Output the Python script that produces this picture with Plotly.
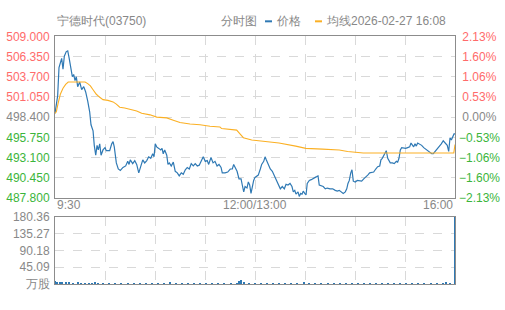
import plotly.graph_objects as go

# ---- data ----
prev_close = 498.4
price_levels = [487.8, 490.45, 493.1, 495.75, 498.4, 501.05, 503.7, 506.35, 509.0]

# trading minutes since 9:30 (lunch break removed, 330 = 16:00)
price_min = [0, 2.2, 3.3, 4.4, 5.5, 6.6, 7.7, 9.3, 10.5, 11.6, 13.2, 14.3, 15.4, 16.5, 17.6, 18.7,
             20.4, 22.0, 23.7, 25.3, 27.0, 28.6, 29.7, 31.4, 32.4, 33.6, 34.7, 35.7, 36.9, 38.0,
             39.6, 41.3, 42.3, 45.1, 46.8, 47.9, 48.9, 50.6, 52.2, 53.9, 56.1, 58.3, 60.0, 61.1,
             62.1, 64.1, 65.8, 67.4, 69.1, 70.7, 72.4, 74.0, 75.7, 77.3, 79.0, 80.6, 81.7, 82.7,
             83.9, 85.6, 87.2, 88.3, 89.3, 90.5, 92.2, 93.2, 94.3, 95.9, 97.6, 99.2, 100.9, 102.5,
             104.2, 105.8, 107.5, 109.1, 110.8, 112.4, 114.1, 115.7, 117.4, 119.0, 120.7, 122.3,
             124.0, 125.6, 126.8, 128.7, 130.4, 132.0, 133.7, 135.3, 137.0, 138.0, 140.3, 142.5,
             144.6, 146.3, 147.4, 148.5, 150.2, 151.8, 153.5, 154.5, 155.7, 156.8, 158.4, 159.5,
             160.6, 161.7, 162.8, 163.9, 165.0, 166.7, 167.7, 169.4, 170.5, 172.2, 173.3, 174.3,
             176.0, 177.6, 179.3, 180.9, 182.6, 184.2, 185.9, 187.5, 189.2, 190.6, 192.2, 193.9,
             195.5, 196.6, 197.8, 198.8, 200.5, 201.5, 202.7, 203.8, 204.8, 206.0, 207.1, 208.1,
             209.8, 211.4, 213.1, 214.7, 215.9, 217.0, 218.0, 219.7, 221.3, 223.0, 224.6, 226.9,
             229.1, 231.2, 232.9, 234.5, 236.2, 237.8, 239.5, 240.7, 241.7, 242.8, 244.0, 245.0,
             246.1, 247.7, 249.4, 251.4, 253.0, 254.7, 256.3, 258.0, 259.6, 261.3, 262.9, 264.6,
             266.2, 267.9, 268.9, 270.0, 271.2, 272.3, 273.3, 274.5, 275.6, 276.6, 278.3, 279.9,
             281.6, 282.7, 283.8, 284.9, 286.0, 287.7, 289.3, 291.0, 292.6, 293.7, 294.8, 295.9,
             297.0, 298.1, 299.2, 300.9, 302.5, 304.2, 305.8, 307.5, 309.1, 310.8, 312.1, 313.7,
             315.4, 317.0, 318.7, 320.3, 321.5, 322.6, 323.6, 324.8, 325.9, 327.0, 328.2, 329.2, 330]
price_val = [498.9, 501.2, 504.9, 505.4, 506.1, 504.7, 506.4, 507.0, 507.1, 506.2, 504.5, 503.7, 504.0,
             503.2, 503.7, 502.4, 503.0, 502.0, 502.4, 501.7, 500.5, 499.1, 497.4, 496.6, 494.7,
             493.4, 494.7, 494.1, 494.9, 493.4, 494.1, 494.4, 494.0, 494.0, 494.9, 495.2, 494.5,
             492.4, 491.6, 491.4, 491.8, 492.0, 492.6, 492.2, 492.8, 492.3, 492.7, 492.2, 491.1,
             492.0, 492.8, 492.4, 492.7, 493.2, 493.0, 493.6, 493.2, 494.9, 494.5, 494.3, 494.1,
             494.3, 493.6, 494.1, 493.4, 492.2, 492.4, 492.0, 492.5, 491.3, 491.1, 490.7, 491.1,
             490.9, 491.5, 491.8, 491.6, 492.3, 492.0, 492.3, 492.0, 492.1, 492.6, 493.2, 492.6,
             492.7, 492.2, 493.1, 492.4, 492.6, 492.0, 492.2, 491.8, 491.1, 491.1, 491.2, 491.6,
             491.6, 492.2, 491.9, 491.3, 490.3, 490.3, 489.5, 488.6, 489.3, 489.1, 489.9, 489.5,
             488.4, 489.3, 490.1, 490.5, 490.7, 490.8, 491.6, 492.2, 492.6, 493.2, 492.8, 492.2,
             491.6, 491.3, 490.7, 490.1, 489.5, 489.0, 489.3, 489.0, 489.6, 489.5, 489.7, 489.3,
             488.6, 488.8, 488.3, 488.6, 488.0, 488.4, 488.3, 488.7, 488.4, 488.2, 489.7, 490.1,
             490.2, 490.4, 490.5, 490.6, 490.7, 489.5, 489.4, 489.3, 489.0, 489.1, 489.0, 489.0,
             488.8, 488.7, 488.8, 488.6, 488.4, 488.6, 489.0, 489.7, 490.1, 491.1, 491.5, 490.0,
             489.9, 490.1, 490.0, 490.0, 490.3, 490.5, 490.8, 491.1, 491.2, 491.2, 491.6, 491.9,
             492.0, 492.8, 493.0, 493.4, 493.7, 494.0, 493.0, 492.6, 492.4, 492.4, 492.3, 492.6,
             492.5, 493.0, 494.1, 494.4, 494.3, 494.3, 494.4, 494.5, 495.0, 494.7, 494.5, 494.9,
             494.6, 495.0, 494.9, 494.7, 494.4, 494.2, 493.9, 493.7, 493.6, 493.6, 493.9, 494.2,
             494.5, 494.9, 495.3, 495.1, 494.9, 494.7, 493.9, 495.7, 495.4, 495.9, 496.2, 496.2]

avg_min = [0, 1.1, 2.7, 4.4, 6.6, 8.8, 10.9, 14.9, 20.4, 24.8, 27.0, 29.2, 31.4, 34.1, 36.9, 39.6,
           43.7, 47.9, 50.6, 53.4, 57.5, 62.1, 67.4, 71.5, 78.4, 83.9, 92.2, 97.6, 103.1, 111.4,
           119.6, 127.9, 136.1, 137.5, 149.9, 152.6, 155.4, 162.3, 173.3, 184.8, 198.6, 206.9,
           220.7, 234.5, 241.4, 254.3, 329.0, 330]
avg_val = [498.9, 499.1, 500.3, 501.4, 502.2, 502.7, 503.0, 503.0, 503.0, 503.0, 502.8, 502.5, 502.0,
           501.4, 501.0, 500.7, 500.6, 500.4, 500.1, 499.7, 499.6, 499.4, 499.2, 498.9, 498.7,
           498.4, 498.3, 498.0, 497.7, 497.5, 497.4, 497.2, 497.1, 496.9, 496.7, 496.2, 495.7,
           495.4, 495.2, 495.0, 494.6, 494.3, 494.2, 494.1, 493.9, 493.7, 493.7, 494.8]

vol_min = [0, 2, 4, 6, 9, 12, 15, 19, 22, 25, 28, 31, 33, 36, 40, 45, 50, 55, 60, 65, 70, 75, 80, 85,
           90, 95, 100, 105, 110, 115, 120, 125, 130, 135, 140, 145, 150, 152, 154, 156, 160, 165,
           170, 175, 180, 185, 190, 195, 200, 206, 210, 215, 220, 225, 230, 235, 240, 245, 250,
           255, 260, 265, 270, 275, 280, 285, 290, 295, 300, 305, 310, 315, 320, 323, 326, 330]
vol_val = [8.0, 5.5, 4.0, 3.5, 3.0, 2.5, 2.0, 4.0, 2.0, 2.0, 1.8, 2.0, 4.5, 2.0, 1.8, 1.6, 1.5, 1.5,
           1.5, 1.4, 1.5, 1.4, 1.3, 1.4, 1.3, 2.5, 1.4, 1.3, 1.3, 1.3, 1.2, 1.3, 1.3, 1.2, 1.3,
           1.3, 2.0, 6.5, 10.0, 3.0, 1.6, 1.5, 1.4, 1.3, 1.3, 1.3, 1.2, 1.3, 1.3, 2.5, 1.3, 1.2,
           1.3, 1.2, 1.3, 1.2, 1.3, 1.2, 1.3, 1.2, 1.3, 1.2, 1.3, 1.2, 1.3, 1.2, 1.3, 1.2, 1.3,
           1.2, 1.3, 1.3, 1.4, 2.5, 1.5, 180.36]
vol_ticks = [0, 45.09, 90.18, 135.27, 180.36]
x_labels = ["9:30", "12:00/13:00", "16:00"]

# ---- style ----
BLUE = "#2f79b4"
ORANGE = "#fbb024"
RED = "#ff6b6b"
GREEN = "#3bb53b"
GRAY = "#888888"
GRID = "#d9d9d9"
BORDER = "#8c8c8c"
FONT = "Liberation Sans, Arial, sans-serif"

def colored(v, txt):
    if abs(v - prev_close) < 1e-9:
        c = GRAY
    elif v > prev_close:
        c = RED
    else:
        c = GREEN
    return f"<span style='color:{c}'>{txt}</span>"

left_text = [colored(v, f"{v:.3f}") for v in price_levels]
pct_vals = [(v / prev_close - 1) * 100 for v in price_levels]
right_text = []
for v, p in zip(price_levels, pct_vals):
    if abs(p) < 1e-9:
        s = "\u00a00.00%"
    elif p > 0:
        s = f"\u00a0{p:.2f}%"
    else:
        s = f"\u2212{abs(p):.2f}%"
    right_text.append(colored(v, s))

grid_x = [330 * i / 8 for i in range(9)]

fig = go.Figure()
fig.add_trace(go.Scatter(x=price_min, y=price_val, mode="lines",
                         line=dict(color=BLUE, width=1.2), xaxis="x", yaxis="y", hoverinfo="skip"))
fig.add_trace(go.Scatter(x=avg_min, y=avg_val, mode="lines",
                         line=dict(color=ORANGE, width=1.1), xaxis="x", yaxis="y", hoverinfo="skip"))
fig.add_trace(go.Bar(x=vol_min, y=vol_val, width=1.2, marker=dict(color=BLUE, line=dict(width=0)),
                     xaxis="x2", yaxis="y2", hoverinfo="skip"))

H = 310
main_dom = [(H - 200) / H, (H - 30.7) / H]
vol_dom = [(H - 290) / H, (H - 220) / H]

axis_common = dict(showline=True, linecolor=BORDER, linewidth=1, mirror=True,
                   showgrid=True, gridcolor=GRID, griddash="dash", gridwidth=1,
                   zeroline=False, ticks="", fixedrange=True)

fig.update_layout(
    width=505, height=310,
    margin=dict(l=55, r=50, t=0, b=0),
    paper_bgcolor="white", plot_bgcolor="white",
    showlegend=False,
    font=dict(family=FONT, size=12, color=GRAY),
    bargap=0,
    xaxis=dict(domain=[0, 1], range=[0, 330], anchor="y", tickvals=grid_x,
               showticklabels=False, **axis_common),
    yaxis=dict(domain=main_dom, range=[price_levels[0], price_levels[-1]],
               tickvals=price_levels, ticktext=left_text, tickfont=dict(size=12, color=GRAY),
               ticklabelstandoff=2, **axis_common),
    yaxis3=dict(overlaying="y", side="right", anchor="x",
                range=[pct_vals[0], pct_vals[-1]], tickvals=pct_vals, ticktext=right_text,
                tickfont=dict(size=12, color=GRAY), showgrid=False, zeroline=False,
                showline=False, fixedrange=True, ticklabelstandoff=3),
    xaxis2=dict(domain=[0, 1], range=[0, 330], anchor="y2", tickvals=grid_x,
                showticklabels=False, **axis_common),
    yaxis2=dict(domain=vol_dom, range=[0, vol_ticks[-1]], tickvals=vol_ticks,
                ticktext=["万股"] + [f"{v:.2f}" for v in vol_ticks[1:]],
                tickfont=dict(size=12, color=GRAY), ticklabelstandoff=2, **axis_common),
)

# invisible trace so right axis renders
fig.add_trace(go.Scatter(x=[0], y=[0], mode="markers", marker=dict(opacity=0),
                         xaxis="x", yaxis="y3", hoverinfo="skip"))

# x axis labels
y_lab = (H - 207) / H
fig.add_annotation(x=0, y=y_lab, xref="x", yref="paper", text=x_labels[0], showarrow=False,
                   xanchor="left", yanchor="middle", font=dict(size=12, color=GRAY))
fig.add_annotation(x=165, y=y_lab, xref="x", yref="paper", text=x_labels[1], showarrow=False,
                   xanchor="center", yanchor="middle", font=dict(size=12, color=GRAY))
fig.add_annotation(x=330, y=y_lab, xref="x", yref="paper", text=x_labels[2], showarrow=False,
                   xanchor="right", yanchor="middle", font=dict(size=12, color=GRAY))

# header
y_head = (H - 15) / H
def px(xp):
    return (xp - 55) / 400
fig.add_annotation(x=px(55), y=y_head, xref="paper", yref="paper", text="宁德时代(03750)",
                   showarrow=False, xanchor="left", yanchor="middle", font=dict(size=12, color=GRAY))
fig.add_annotation(x=px(219), y=y_head, xref="paper", yref="paper", text="分时图",
                   showarrow=False, xanchor="left", yanchor="middle", font=dict(size=12, color=GRAY))
fig.add_annotation(x=px(274), y=y_head, xref="paper", yref="paper", text="价格",
                   showarrow=False, xanchor="left", yanchor="middle", font=dict(size=12, color=GRAY))
fig.add_annotation(x=px(324), y=y_head, xref="paper", yref="paper", text="均线2026-02-27 16:08",
                   showarrow=False, xanchor="left", yanchor="middle", font=dict(size=12, color=GRAY))
fig.add_shape(type="line", xref="paper", yref="paper", x0=px(265), x1=px(272), y0=y_head, y1=y_head,
              line=dict(color=BLUE, width=2))
fig.add_shape(type="line", xref="paper", yref="paper", x0=px(315), x1=px(322), y0=y_head, y1=y_head,
              line=dict(color=ORANGE, width=2))

fig.write_html("out.html", config={"displayModeBar": False})
